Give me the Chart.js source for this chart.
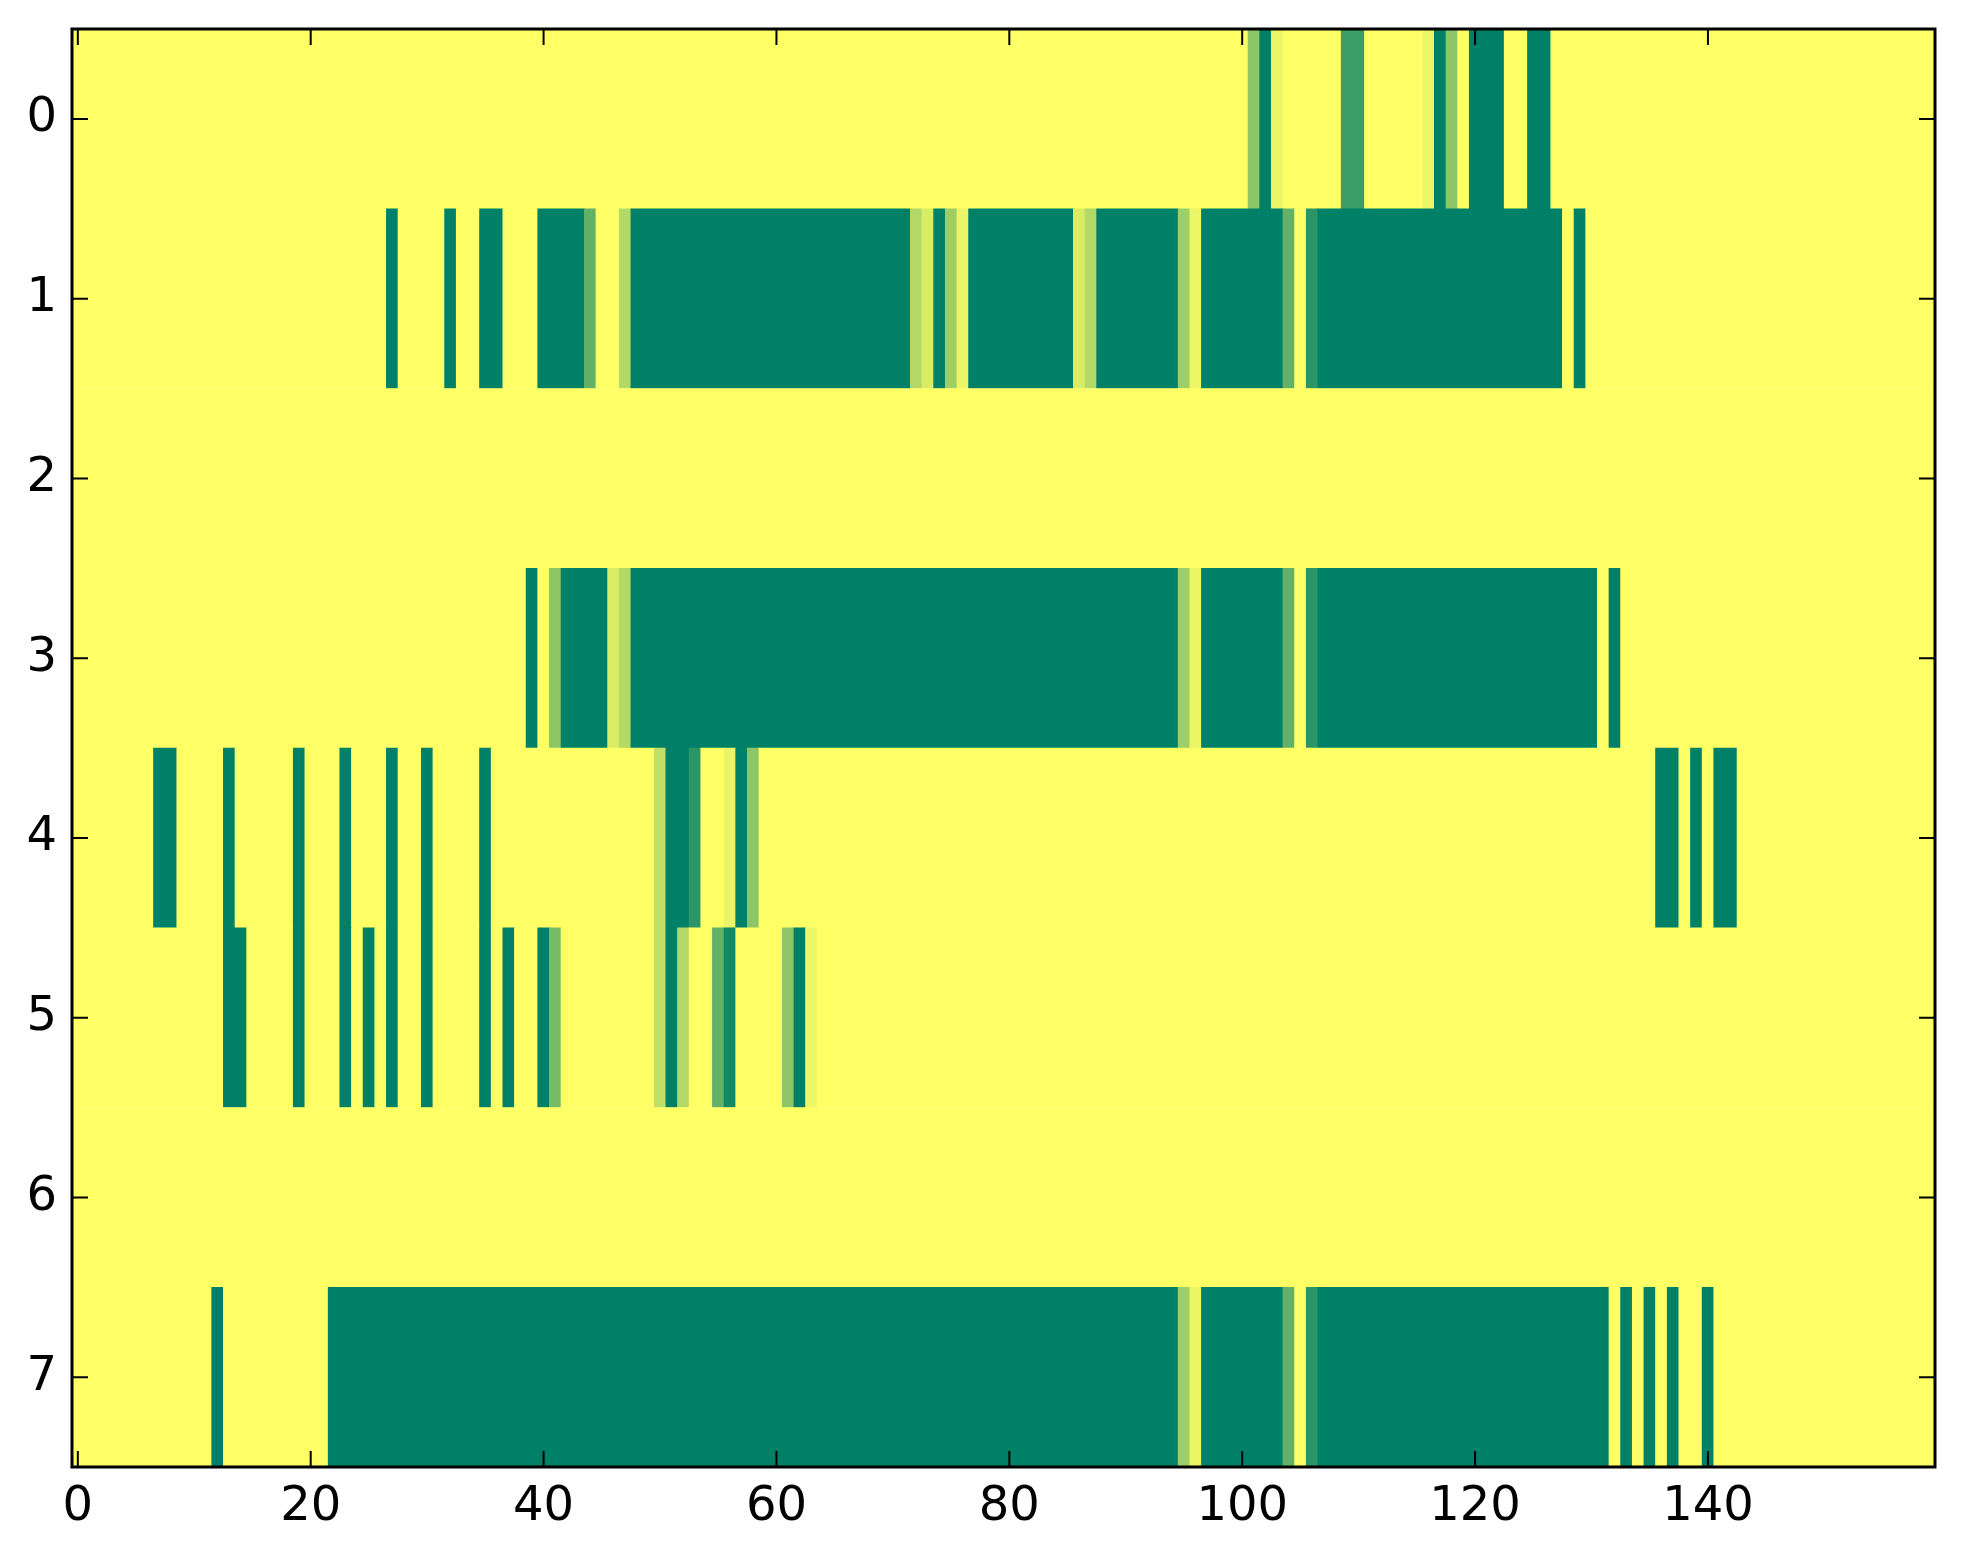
<!DOCTYPE html>
<html>
<head>
<meta charset="utf-8">
<title>heatmap</title>
<script src="https://cdn.jsdelivr.net/npm/chart.js@4.4.1/dist/chart.umd.min.js"></script>
<style>
  html, body { margin: 0; padding: 0; background: #fff; }
  canvas { display: block; }
</style>
</head>
<body>
<canvas id="chart" width="1963" height="1564"></canvas>
<script>
// --- DATA (one value per cell, 160 columns per row) ---
const rowLabels = ['0', '1', '2', '3', '4', '5', '6', '7'];
const xTicks = [0, 20, 40, 60, 80, 100, 120, 140];

const row0 = [
  1,1,1,1,1,1,1,1,1,1,1,1,1,1,1,1,1,1,1,1,
  1,1,1,1,1,1,1,1,1,1,1,1,1,1,1,1,1,1,1,1,
  1,1,1,1,1,1,1,1,1,1,1,1,1,1,1,1,1,1,1,1,
  1,1,1,1,1,1,1,1,1,1,1,1,1,1,1,1,1,1,1,1,
  1,1,1,1,1,1,1,1,1,1,1,1,1,1,1,1,1,1,1,1,
  1,.55,0,.93,1,1,1,1,1,.23,.23,1,1,1,1,1,.93,0,.55,1,
  0,0,0,1,1,0,0,1,1,1,1,1,1,1,1,1,1,1,1,1,
  1,1,1,1,1,1,1,1,1,1,1,1,1,1,1,1,1,1,1,1
];
const row1 = [
  1,1,1,1,1,1,1,1,1,1,1,1,1,1,1,1,1,1,1,1,
  1,1,1,1,1,1,1,0,1,1,1,1,0,1,1,0,0,1,1,1,
  0,0,0,0,.39,1,1,.7,0,0,0,0,0,0,0,0,0,0,0,0,
  0,0,0,0,0,0,0,0,0,0,0,0,.7,.85,0,.62,.92,0,0,0,
  0,0,0,0,0,0,.85,.7,0,0,0,0,0,0,0,.62,.93,0,0,0,
  0,0,0,0,.39,1,.17,0,0,0,0,0,0,0,0,0,0,0,0,0,
  0,0,0,0,0,0,0,0,1,0,1,1,1,1,1,1,1,1,1,1,
  1,1,1,1,1,1,1,1,1,1,1,1,1,1,1,1,1,1,1,1
];
const row2 = [
  1,1,1,1,1,1,1,1,1,1,1,1,1,1,1,1,1,1,1,1,
  1,1,1,1,1,1,1,1,1,1,1,1,1,1,1,1,1,1,1,1,
  1,1,1,1,1,1,1,1,1,1,1,1,1,1,1,1,1,1,1,1,
  1,1,1,1,1,1,1,1,1,1,1,1,1,1,1,1,1,1,1,1,
  1,1,1,1,1,1,1,1,1,1,1,1,1,1,1,1,1,1,1,1,
  1,1,1,1,1,1,1,1,1,1,1,1,1,1,1,1,1,1,1,1,
  1,1,1,1,1,1,1,1,1,1,1,1,1,1,1,1,1,1,1,1,
  1,1,1,1,1,1,1,1,1,1,1,1,1,1,1,1,1,1,1,1
];
const row3 = [
  1,1,1,1,1,1,1,1,1,1,1,1,1,1,1,1,1,1,1,1,
  1,1,1,1,1,1,1,1,1,1,1,1,1,1,1,1,1,1,1,0,
  1,.55,0,0,0,0,.85,.7,0,0,0,0,0,0,0,0,0,0,0,0,
  0,0,0,0,0,0,0,0,0,0,0,0,0,0,0,0,0,0,0,0,
  0,0,0,0,0,0,0,0,0,0,0,0,0,0,0,.62,.92,0,0,0,
  0,0,0,0,.39,1,.17,0,0,0,0,0,0,0,0,0,0,0,0,0,
  0,0,0,0,0,0,0,0,0,0,0,1,0,1,1,1,1,1,1,1,
  1,1,1,1,1,1,1,1,1,1,1,1,1,1,1,1,1,1,1,1
];
const row4 = [
  1,1,1,1,1,1,1,0,0,1,1,1,1,0,1,1,1,1,1,0,
  1,1,1,0,1,1,1,0,1,1,0,1,1,1,1,0,1,1,1,1,
  1,1,1,1,1,1,1,1,1,1,.75,0,0,.17,1,1,.92,0,.55,1,
  1,1,1,1,1,1,1,1,1,1,1,1,1,1,1,1,1,1,1,1,
  1,1,1,1,1,1,1,1,1,1,1,1,1,1,1,1,1,1,1,1,
  1,1,1,1,1,1,1,1,1,1,1,1,1,1,1,1,1,1,1,1,
  1,1,1,1,1,1,1,1,1,1,1,1,1,1,1,1,0,0,1,0,
  1,0,0,1,1,1,1,1,1,1,1,1,1,1,1,1,1,1,1,1
];
const row5 = [
  1,1,1,1,1,1,1,1,1,1,1,1,1,0,0,1,1,1,1,0,
  1,1,1,0,1,0,1,0,1,1,0,1,1,1,1,0,1,0,1,1,
  0,.47,1,1,1,1,1,1,1,1,.75,0,.7,1,1,.39,.07,1,1,1,
  1,.55,0,.93,1,1,1,1,1,1,1,1,1,1,1,1,1,1,1,1,
  1,1,1,1,1,1,1,1,1,1,1,1,1,1,1,1,1,1,1,1,
  1,1,1,1,1,1,1,1,1,1,1,1,1,1,1,1,1,1,1,1,
  1,1,1,1,1,1,1,1,1,1,1,1,1,1,1,1,1,1,1,1,
  1,1,1,1,1,1,1,1,1,1,1,1,1,1,1,1,1,1,1,1
];
const row6 = [
  1,1,1,1,1,1,1,1,1,1,1,1,1,1,1,1,1,1,1,1,
  1,1,1,1,1,1,1,1,1,1,1,1,1,1,1,1,1,1,1,1,
  1,1,1,1,1,1,1,1,1,1,1,1,1,1,1,1,1,1,1,1,
  1,1,1,1,1,1,1,1,1,1,1,1,1,1,1,1,1,1,1,1,
  1,1,1,1,1,1,1,1,1,1,1,1,1,1,1,1,1,1,1,1,
  1,1,1,1,1,1,1,1,1,1,1,1,1,1,1,1,1,1,1,1,
  1,1,1,1,1,1,1,1,1,1,1,1,1,1,1,1,1,1,1,1,
  1,1,1,1,1,1,1,1,1,1,1,1,1,1,1,1,1,1,1,1
];
const row7 = [
  1,1,1,1,1,1,1,1,1,1,1,1,0,1,1,1,1,1,1,1,
  1,1,0,0,0,0,0,0,0,0,0,0,0,0,0,0,0,0,0,0,
  0,0,0,0,0,0,0,0,0,0,0,0,0,0,0,0,0,0,0,0,
  0,0,0,0,0,0,0,0,0,0,0,0,0,0,0,0,0,0,0,0,
  0,0,0,0,0,0,0,0,0,0,0,0,0,0,0,.62,.92,0,0,0,
  0,0,0,0,.39,1,.17,0,0,0,0,0,0,0,0,0,0,0,0,0,
  0,0,0,0,0,0,0,0,0,0,0,0,1,0,1,0,1,0,1,1,
  0,1,1,1,1,1,1,1,1,1,1,1,1,1,1,1,1,1,1,1
];
const rows = [row0, row1, row2, row3, row4, row5, row6, row7];
// --- END DATA ---

// matplotlib 'summer': 0 -> (0, .5, .4), 1 -> (1, 1, .4)
function summer(v) {
    const r = Math.round(255 * v);
    const g = Math.round(255 * (0.5 + 0.5 * v));
    const b = Math.round(255 * 0.4);
    return `rgb(${r},${g},${b})`;
}

// merge runs of equal cells into floating bars so there are no seams
const cells = [];
const colors = [];
rows.forEach((row, r) => {
    let start = 0;
    for (let c = 1; c <= row.length; c++) {
        if (c === row.length || row[c] !== row[start]) {
            cells.push({ x: [start - 0.5, c - 0.5], y: rowLabels[r] });
            colors.push(summer(row[start]));
            start = c;
        }
    }
});

const FONT = { family: '"DejaVu Sans", sans-serif', size: 48 };

// frame + inward ticks on all four sides, like the classic matplotlib style
const frameTicks = {
    id: 'frameTicks',
    afterDatasetsDraw(chart) {
        const { ctx, chartArea: a, scales } = chart;
        const len = 16;
        ctx.save();
        ctx.strokeStyle = '#000';
        ctx.lineWidth = 2;
        ctx.beginPath();
        xTicks.forEach(v => {
            const px = scales.x.getPixelForValue(v);
            ctx.moveTo(px, a.bottom); ctx.lineTo(px, a.bottom - len);
            ctx.moveTo(px, a.top); ctx.lineTo(px, a.top + len);
        });
        rowLabels.forEach((l, i) => {
            const py = scales.y.getPixelForValue(i);
            ctx.moveTo(a.left, py); ctx.lineTo(a.left + len, py);
            ctx.moveTo(a.right, py); ctx.lineTo(a.right - len, py);
        });
        ctx.stroke();
        ctx.lineWidth = 3;
        ctx.strokeRect(a.left, a.top, a.right - a.left, a.bottom - a.top);
        ctx.restore();
    }
};

new Chart(document.getElementById('chart'), {
    type: 'bar',
    data: {
        labels: rowLabels,
        datasets: [{
            data: cells,
            backgroundColor: colors,
            borderWidth: 0,
            borderSkipped: false,
            barPercentage: 1,
            categoryPercentage: 1
        }]
    },
    options: {
        indexAxis: 'y',
        responsive: false,
        animation: false,
        devicePixelRatio: 1,
        layout: { padding: { top: 29, right: 28, left: 0, bottom: 0 } },
        plugins: {
            legend: { display: false },
            tooltip: { enabled: false }
        },
        scales: {
            x: {
                type: 'linear',
                min: -0.5,
                max: 159.5,
                afterBuildTicks: (s) => { s.ticks = xTicks.map(v => ({ value: v })); },
                afterFit: (s) => { s.height = 97; },
                grid: { display: false, drawTicks: false },
                border: { display: false },
                ticks: { color: '#000', font: FONT, padding: 12, maxRotation: 0 }
            },
            y: {
                type: 'category',
                offset: true,
                afterFit: (s) => {
                    s.width = 72;
                    // labels sit inside the rows, so no extra room is needed above/below
                    s.paddingTop = 0;
                    s.paddingBottom = 0;
                },
                grid: { display: false, drawTicks: false },
                border: { display: false },
                ticks: { color: '#000', font: FONT, padding: 15 }
            }
        }
    },
    plugins: [frameTicks]
});
</script>
</body>
</html>
